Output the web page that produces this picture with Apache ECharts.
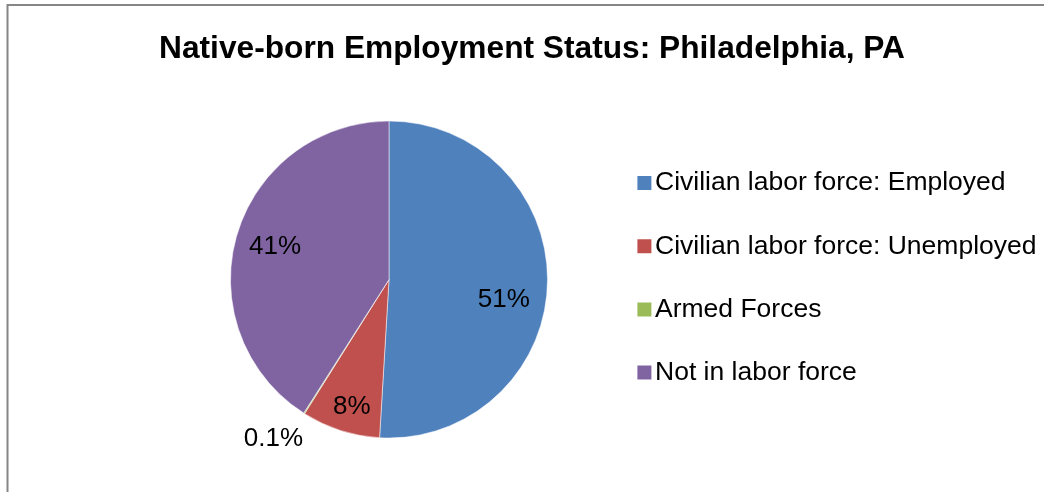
<!DOCTYPE html>
<html>
<head>
<meta charset="utf-8">
<script src="https://cdn.jsdelivr.net/npm/echarts@6/dist/echarts.min.js"></script>
<style>
  html, body { margin: 0; padding: 0; background: #fff; }
  #chart { width: 1044px; height: 492px; }
</style>
</head>
<body>
<div id="chart"></div>
<script>
// Employment status of the native-born population, Philadelphia, PA (percent)
const categories = [
  'Civilian labor force: Employed',
  'Civilian labor force: Unemployed',
  'Armed Forces',
  'Not in labor force'
];
const shares = [51, 8, 0.1, 41];
const sliceColors = ['#4F81BD', '#C0504D', '#9BBB59', '#8064A2'];

const FONT = '"Liberation Sans", Arial, sans-serif';
const CENTER = [389, 279.5];
const R = 158.5;

// Visible slices
const sliceData = categories.map((name, i) => ({
  name: name,
  value: shares[i],
  itemStyle: { color: sliceColors[i] }
}));

// Label carrier ring: same values, transparent, so inside labels sit at 3/4 radius.
// Very thin slices get their label outside the pie.
const labelData = categories.map((name, i) => {
  const item = { name: name, value: shares[i] };
  if (shares[i] < 1) {
    item.label = { position: 'outside' };
    item.labelLine = { show: false, length: 30, length2: -20 };
  }
  return item;
});

// small nudges for the inside labels
const labelNudge = { 0: [-7, 17], 1: [0, 11], 3: [3, 1] };

const chart = echarts.init(document.getElementById('chart'), null, { renderer: 'canvas' });
chart.setOption({
  animation: false,
  backgroundColor: '#ffffff',
  title: {
    text: 'Native-born Employment Status: Philadelphia, PA',
    left: 527,
    textAlign: 'center',
    top: 28,
    textStyle: {
      fontFamily: FONT,
      fontWeight: 'bold',
      fontSize: 31.7,
      color: '#000'
    }
  },
  legend: {
    orient: 'vertical',
    left: 635.4,
    top: 169.5,
    padding: 0,
    itemWidth: 16,
    itemHeight: 16,
    itemGap: 36.2,
    icon: 'rect',
    selectedMode: false,
    data: categories,
    textStyle: {
      fontFamily: FONT,
      fontSize: 26.5,
      lineHeight: 26,
      color: '#000',
      padding: [0, 0, 0, -2.4]
    }
  },
  graphic: [{
    type: 'rect',
    shape: { x: 7.5, y: 5, width: 1100, height: 600 },
    style: { fill: 'none', stroke: '#868686', lineWidth: 2 },
    silent: true,
    z: -1
  }],
  series: [
    {
      type: 'pie',
      center: CENTER,
      radius: R,
      startAngle: 90,
      clockwise: true,
      silent: true,
      label: { show: false },
      labelLine: { show: false },
      itemStyle: { borderColor: '#ffffff', borderWidth: 0.5 },
      emphasis: { disabled: true },
      data: sliceData
    },
    {
      type: 'pie',
      center: CENTER,
      radius: [R / 2, R],
      startAngle: 90,
      clockwise: true,
      silent: true,
      z: 3,
      minShowLabelAngle: 0,
      avoidLabelOverlap: false,
      itemStyle: { color: 'rgba(0,0,0,0)' },
      emphasis: { disabled: true },
      label: {
        show: true,
        position: 'inside',
        formatter: '{c}%',
        fontFamily: FONT,
        fontSize: 26,
        color: '#000'
      },
      labelLine: { show: false },
      labelLayout: function (p) {
        const n = labelNudge[p.dataIndex];
        return n ? { dx: n[0], dy: n[1] } : {};
      },
      data: labelData
    }
  ]
});
</script>
</body>
</html>
